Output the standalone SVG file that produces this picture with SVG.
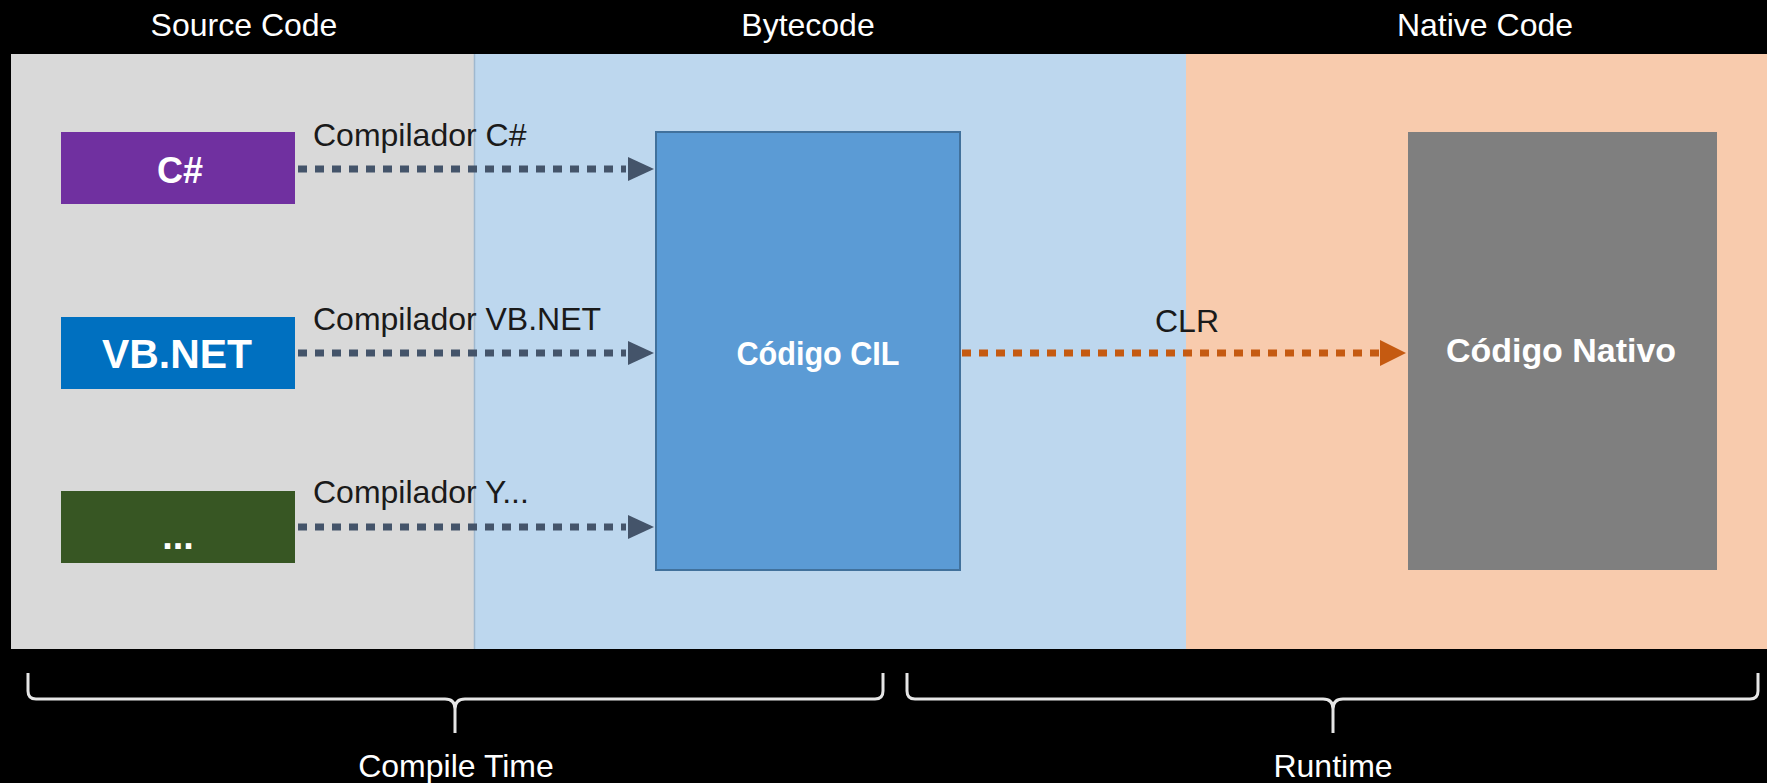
<svg xmlns="http://www.w3.org/2000/svg" width="1767" height="783" viewBox="0 0 1767 783">
  <defs>
    <style>
      text { font-family: "Liberation Sans", Arial, sans-serif; }
      .hdr { fill: #ffffff; font-size: 32px; text-anchor: middle; }
      .lbl { fill: #1a1a1a; font-size: 32px; }
      .node { fill: #ffffff; font-weight: bold; text-anchor: middle; }
      .dots { fill: none; stroke: #44546A; stroke-width: 7; stroke-dasharray: 9 8; }
      .dots-o { fill: none; stroke: #C55A11; stroke-width: 7; stroke-dasharray: 9 8; }
      .brace { fill: none; stroke: #e6e6e6; stroke-width: 3; stroke-linejoin: round; }
    </style>
  </defs>

  <!-- background -->
  <rect x="0" y="0" width="1767" height="783" fill="#000000"/>

  <!-- bands -->
  <g id="bands">
    <rect x="11" y="54" width="463" height="595" fill="#D9D9D9"/>
    <rect x="474" y="54" width="712" height="595" fill="#BDD7EE"/>
    <rect x="1186" y="54" width="581" height="595" fill="#F8CBAD"/>
    <line x1="474.5" y1="54" x2="474.5" y2="649" stroke="#9FB8CF" stroke-width="1.5"/>
  </g>

  <!-- headers -->
  <g id="headers">
    <text class="hdr" x="244" y="36">Source Code</text>
    <text class="hdr" x="808" y="36">Bytecode</text>
    <text class="hdr" x="1485" y="36">Native Code</text>
  </g>

  <!-- nodes -->
  <g id="node-csharp">
    <rect x="61" y="132" width="234" height="72" fill="#7030A0"/>
    <text class="node" x="180" y="183" font-size="36">C#</text>
  </g>
  <g id="node-vbnet">
    <rect x="61" y="317" width="234" height="72" fill="#0070C0"/>
    <text class="node" x="177" y="368" font-size="40" textLength="150" lengthAdjust="spacingAndGlyphs">VB.NET</text>
  </g>
  <g id="node-other">
    <rect x="61" y="491" width="234" height="72" fill="#375623"/>
    <text class="node" x="178" y="549" font-size="38">...</text>
  </g>
  <g id="node-cil">
    <rect x="656" y="132" width="304" height="438" fill="#5B9BD5" stroke="#41719C" stroke-width="2"/>
    <text class="node" x="818" y="365" font-size="33" textLength="163" lengthAdjust="spacingAndGlyphs">Código CIL</text>
  </g>
  <g id="node-native">
    <rect x="1408" y="132" width="309" height="438" fill="#7F7F7F"/>
    <text class="node" x="1561" y="362" font-size="33" textLength="230" lengthAdjust="spacingAndGlyphs">Código Nativo</text>
  </g>

  <!-- connectors -->
  <g id="connectors">
    <line class="dots" x1="298" y1="169" x2="626" y2="169"/>
    <polygon points="628,157 654,169 628,181" fill="#44546A"/>
    <text class="lbl" x="313" y="146">Compilador C#</text>

    <line class="dots" x1="298" y1="353" x2="626" y2="353"/>
    <polygon points="628,341 654,353 628,365" fill="#44546A"/>
    <text class="lbl" x="313" y="330">Compilador VB.NET</text>

    <line class="dots" x1="298" y1="527" x2="626" y2="527"/>
    <polygon points="628,515 654,527 628,539" fill="#44546A"/>
    <text class="lbl" x="313" y="503">Compilador Y...</text>

    <line class="dots-o" x1="962" y1="353" x2="1380" y2="353"/>
    <polygon points="1380,340 1406,353 1380,366" fill="#C55A11"/>
    <text class="lbl" x="1187" y="332" text-anchor="middle">CLR</text>
  </g>

  <!-- braces -->
  <g id="brace-compile">
    <path class="brace" d="M28,673 L28,691 Q28,699 36,699 L445,699 Q455,699 455,709 L455,733 M455,709 Q455,699 465,699 L875,699 Q883,699 883,691 L883,673"/>
    <text class="hdr" x="456" y="777">Compile Time</text>
  </g>
  <g id="brace-runtime">
    <path class="brace" d="M907,673 L907,691 Q907,699 915,699 L1323,699 Q1333,699 1333,709 L1333,733 M1333,709 Q1333,699 1343,699 L1750,699 Q1758,699 1758,691 L1758,673"/>
    <text class="hdr" x="1333" y="777">Runtime</text>
  </g>
</svg>
